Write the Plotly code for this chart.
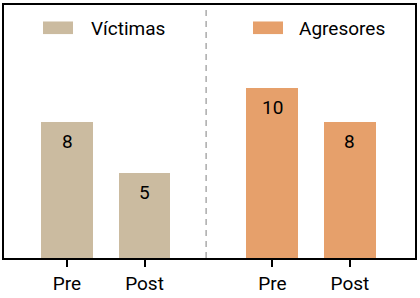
import plotly.graph_objects as go

groups = ["Víctimas", "Agresores"]
periods = ["Pre", "Post"]
victimas = [8, 5]
agresores = [10, 8]
colors = {"Víctimas": "#CBBBA0", "Agresores": "#E6A06B"}

# layout positions (computed, not data)
group_gap = 1.65
pos_v = [0, 1]
pos_a = [p + group_gap for p in [1, 2]]
divider = (pos_v[-1] + pos_a[0]) / 2 - 0.03

font = "Roboto"
fig = go.Figure()
for name, vals, pos in [("Víctimas", victimas, pos_v), ("Agresores", agresores, pos_a)]:
    fig.add_trace(go.Bar(
        x=pos, y=vals, name=name, width=0.67,
        marker=dict(color=colors[name], line=dict(width=0)),
        showlegend=False, hoverinfo="skip",
    ))
    for xv, yv in zip(pos, vals):
        fig.add_annotation(x=xv, y=yv, text=str(yv), showarrow=False,
                           xanchor="center", yanchor="middle", yshift=-19,
                           font=dict(family=font, size=19, color="black"))

fig.add_shape(type="line", xref="x", yref="paper", x0=divider, x1=divider, y0=0, y1=1,
              line=dict(color="#aaaaaa", width=1.5, dash="6px,5px"))

# legend (manual)
legend_items = [("Víctimas", 43, 89), ("Agresores", 253, 297)]
W, H = 420, 298
l, r, t, b = 4, 5, 3, 34
pw, ph = W - l - r, H - t - b
def px(x):
    return (x - l) / pw
def py(y):
    return 1 - (y - t) / ph
for name, sx, tx in legend_items:
    fig.add_shape(type="rect", xref="paper", yref="paper",
                  x0=px(sx), x1=px(sx + 30), y0=py(33), y1=py(20),
                  fillcolor=colors[name], line=dict(width=0))
    fig.add_annotation(xref="paper", yref="paper", x=px(tx), y=py(27),
                       text=name, showarrow=False, xanchor="left", yanchor="middle",
                       font=dict(family=font, size=19, color="black"))

fig.update_layout(
    width=W, height=H, margin=dict(l=l, r=r, t=t, b=b),
    plot_bgcolor="white", paper_bgcolor="white", bargap=0,
    xaxis=dict(range=[-0.813, 4.49], tickvals=pos_v + pos_a, ticktext=periods + periods,
               showline=True, mirror=True, linecolor="black", linewidth=2,
               ticks="outside", ticklen=7, tickwidth=2, tickcolor="black",
               showgrid=False, zeroline=False, fixedrange=True,
               tickfont=dict(family=font, size=19, color="black")),
    yaxis=dict(range=[0, 14.9], showline=True, mirror=True, linecolor="black", linewidth=2,
               showticklabels=False, ticks="", showgrid=False, zeroline=False, fixedrange=True),
    font=dict(family=font),
)
fig.write_html("out.html", config={"displayModeBar": False},
               post_script="document.body.style.margin='0';")
